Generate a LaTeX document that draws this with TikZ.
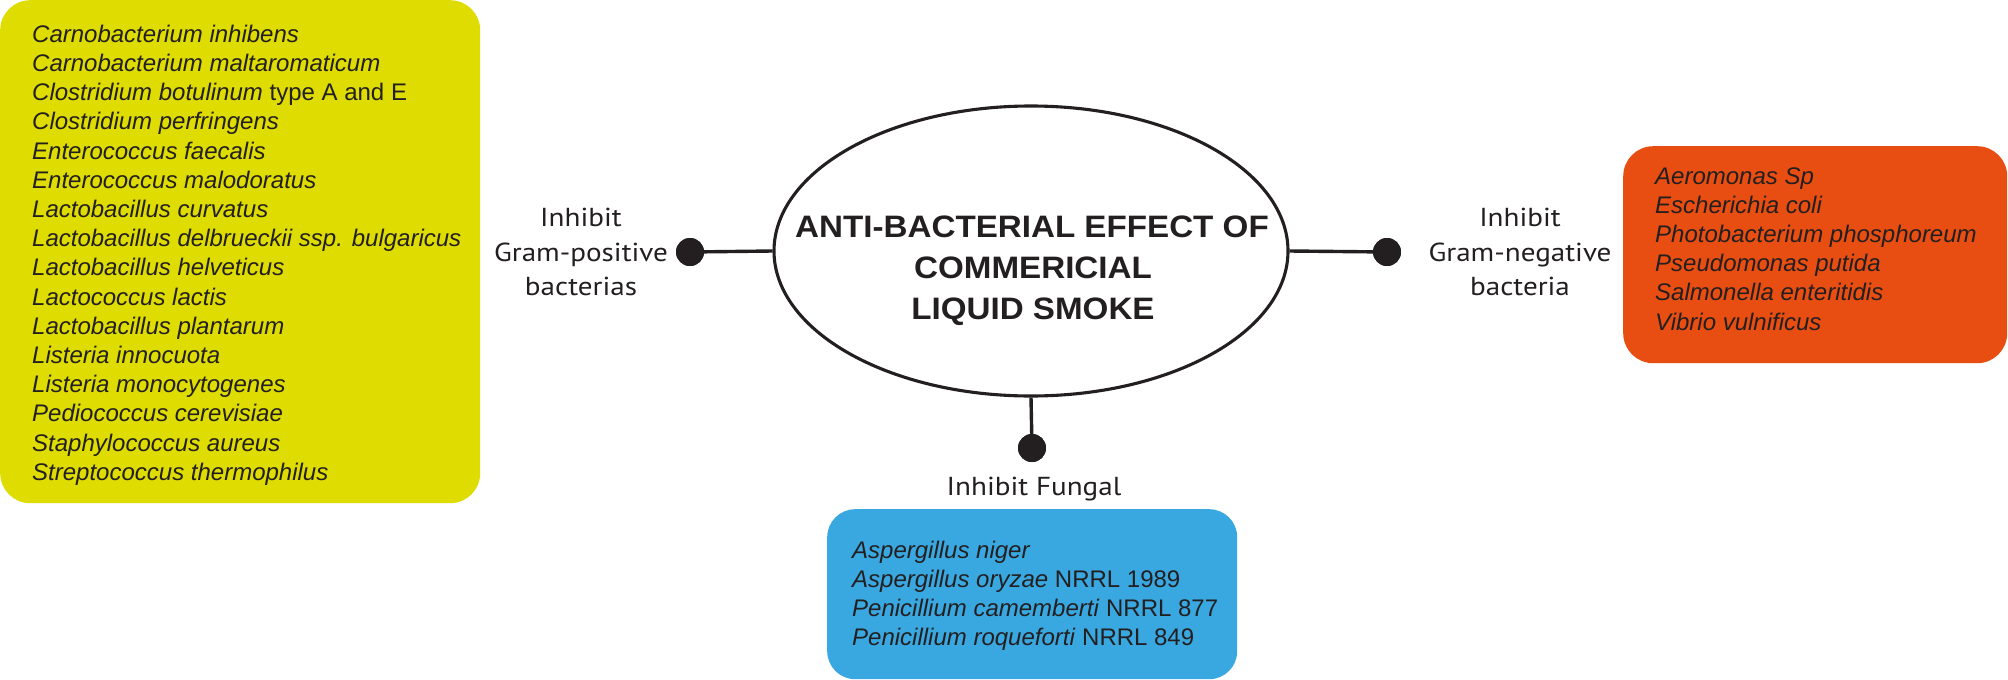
\documentclass[tikz,border=0pt]{standalone}
\usepackage{fontspec}
\setmainfont{Liberation Sans}
\newfontfamily\labelfont[FakeStretch=1.12]{PT Sans}
\newfontfamily\titlefont[FakeStretch=1.07]{Liberation Sans}
\usetikzlibrary{shapes.geometric}
\definecolor{ybox}{RGB}{222,220,0}
\definecolor{obox}{RGB}{232,78,18}
\definecolor{bbox}{RGB}{58,168,224}
\definecolor{ink}{RGB}{35,31,32}
\tikzset{
  listbox/.style={rounded corners=30pt, draw=none, inner sep=0pt, anchor=north west},
  species/.style={inner sep=0pt, anchor=base west, text=ink, font=\fontsize{24}{29}\selectfont},
  lbl/.style={inner sep=0pt, anchor=base, text=ink, font=\labelfont\fontsize{26}{30}\selectfont},
  ttl/.style={inner sep=0pt, anchor=base, text=ink, font=\titlefont\bfseries\fontsize{31}{40}\selectfont},
  hub/.style={ellipse, draw=ink, line width=3.1pt, fill=white, inner sep=0pt},
  dotnode/.style={circle, fill=ink, inner sep=0pt, minimum size=28pt},
  conn/.style={draw=ink, line width=3.4pt}
}
\begin{document}
\begin{tikzpicture}[x=1pt,y=-1pt]
\useasboundingbox[fill=white] (0,0) rectangle (2008,680);

% boxes
\node[listbox, fill=ybox, minimum width=480pt, minimum height=503pt] (gpos) at (0,0) {};
\node[listbox, fill=obox, minimum width=384pt, minimum height=217pt] (gneg) at (1623,146) {};
\node[listbox, fill=bbox, minimum width=410pt, minimum height=170pt, rounded corners=28pt] (fung) at (827,509) {};

% gram-positive list
\foreach \t [count=\i from 0] in {
  {\textit{Carnobacterium inhibens}},
  {\textit{Carnobacterium maltaromaticum}},
  {\textit{Clostridium botulinum} type A and E},
  {\textit{Clostridium perfringens}},
  {\textit{Enterococcus faecalis}},
  {\textit{Enterococcus malodoratus}},
  {\textit{Lactobacillus curvatus}},
  {\textit{Lactobacillus delbrueckii ssp. bulgaricus}},
  {\textit{Lactobacillus helveticus}},
  {\textit{Lactococcus lactis}},
  {\textit{Lactobacillus plantarum}},
  {\textit{Listeria innocuota}},
  {\textit{Listeria monocytogenes}},
  {\textit{Pediococcus cerevisiae}},
  {\textit{Staphylococcus aureus}},
  {\textit{Streptococcus thermophilus}}}
  \node[species] (gp\i) at (32,42.3+29.2*\i) {\t};

% gram-negative list
\foreach \t [count=\i from 0] in {
  {\textit{Aeromonas Sp}},
  {\textit{Escherichia coli}},
  {\textit{Photobacterium phosphoreum}},
  {\textit{Pseudomonas putida}},
  {\textit{Salmonella enteritidis}},
  {\textit{Vibrio vulnificus}}}
  \node[species] (gn\i) at (1655,184+29.2*\i) {\t};

% fungal list
\foreach \t [count=\i from 0] in {
  {\textit{Aspergillus niger}},
  {\textit{Aspergillus oryzae} NRRL 1989},
  {\textit{Penicillium camemberti} NRRL 877},
  {\textit{Penicillium roqueforti} NRRL 849}}
  \node[species] (fg\i) at (852,558+29*\i) {\t};

% central ellipse
\node[hub, minimum width=514pt, minimum height=290pt] (hub) at (1031,251) {};
\node[ttl] (t1) at (1032,237) {ANTI-BACTERIAL EFFECT OF};
\node[ttl] (t2) at (1033,278) {COMMERICIAL};
\node[ttl] (t3) at (1033,319) {LIQUID SMOKE};

% dots
\node[dotnode] (dl) at (690,252) {};
\node[dotnode] (dr) at (1387,252) {};
\node[dotnode] (db) at (1032,448) {};

% connectors
\draw[conn] (hub.west) -- (dl.center);
\draw[conn] (hub.east) -- (dr.center);
\draw[conn] (hub.south) -- (db.center);
\node[dotnode] at (dl) {};
\node[dotnode] at (dr) {};
\node[dotnode] at (db) {};

% labels
\node[lbl] (l1) at (581,226) {Inhibit};
\node[lbl] (l2) at (581,261) {Gram-positive};
\node[lbl] (l3) at (581,295.5) {bacterias};
\node[lbl] (r1) at (1520,226) {Inhibit};
\node[lbl] (r2) at (1520,261) {Gram-negative};
\node[lbl] (r3) at (1520,295.5) {bacteria};
\node[lbl] (f1) at (1034,495) {Inhibit Fungal};
\end{tikzpicture}
\end{document}
